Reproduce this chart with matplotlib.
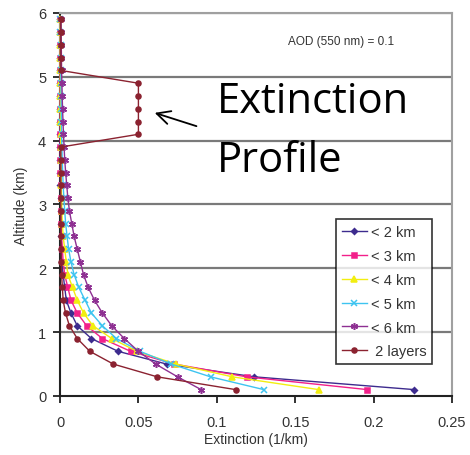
import matplotlib.pyplot as plt

# altitude of each layer centre (km)
alt = [0.1, 0.3, 0.5, 0.7, 0.9, 1.1, 1.3, 1.5, 1.7, 1.9,
       2.1, 2.3, 2.5, 2.7, 2.9, 3.1, 3.3, 3.5, 3.7, 3.9,
       4.1, 4.3, 4.5, 4.7, 4.9, 5.1, 5.3, 5.5, 5.7, 5.9]

# extinction (1/km)
ext_2km = [0.226, 0.124, 0.068, 0.037, 0.020, 0.011, 0.007, 0.004, 0.003, 0.002,
           0.001, 0.001, 0.0008, 0.0006, 0.0005, 0.0004, 0.0003, 0.0003, 0.0002, 0.0002,
           0.0002, 0.0001, 0.0001, 0.0001, 0.0001, 0.0001, 0.0001, 0.0001, 0.0001, 0.0001]
ext_3km = [0.196, 0.119, 0.073, 0.045, 0.027, 0.017, 0.011, 0.007, 0.005, 0.003,
           0.002, 0.0015, 0.001, 0.0008, 0.0006, 0.0005, 0.0004, 0.0003, 0.0003, 0.0002,
           0.0002, 0.0002, 0.0001, 0.0001, 0.0001, 0.0001, 0.0001, 0.0001, 0.0001, 0.0001]
ext_4km = [0.165, 0.110, 0.074, 0.049, 0.033, 0.021, 0.015, 0.011, 0.008, 0.005,
           0.004, 0.003, 0.002, 0.0015, 0.0012, 0.001, 0.0008, 0.0007, 0.0006, 0.0005,
           0.0004, 0.0003, 0.0003, 0.0002, 0.0002, 0.0002, 0.0002, 0.0001, 0.0001, 0.0001]
ext_5km = [0.130, 0.096, 0.071, 0.051, 0.036, 0.027, 0.020, 0.016, 0.012, 0.009,
           0.007, 0.0055, 0.0045, 0.0036, 0.003, 0.0025, 0.002, 0.0017, 0.0014, 0.0012,
           0.001, 0.0009, 0.0008, 0.0007, 0.0006, 0.0005, 0.0004, 0.0004, 0.0003, 0.0003]
ext_6km = [0.090, 0.075, 0.061, 0.050, 0.041, 0.033, 0.027, 0.022, 0.018, 0.015,
           0.013, 0.011, 0.009, 0.0075, 0.006, 0.005, 0.0043, 0.0036, 0.003, 0.0026,
           0.0022, 0.0019, 0.0016, 0.0014, 0.0012, 0.001, 0.0009, 0.0008, 0.0007, 0.0006]
ext_2lay = [0.112, 0.062, 0.034, 0.019, 0.011, 0.006, 0.0035, 0.002, 0.0015, 0.001,
            0.0008, 0.0007, 0.0006, 0.0005, 0.0005, 0.0005, 0.0005, 0.0005, 0.0005, 0.0005,
            0.050, 0.050, 0.050, 0.050, 0.050, 0.0005, 0.0005, 0.0005, 0.0005, 0.0005]

labels = ["< 2 km", "< 3 km", "< 4 km", "< 5 km", "< 6 km", " 2 layers"]
colors = ["#3d2b8e", "#f2208a", "#f2ee10", "#3ec4f0", "#8e3092", "#8b2230"]
markers = ["D", "s", "^", "x", (6, 2, 0), "o"]
sizes = [3, 3.6, 4, 4, 5, 3.6]

plt.rcParams["font.family"] = ["Liberation Sans", "DejaVu Sans"]

fig = plt.figure(figsize=(4.7, 4.56), dpi=100)
ax = fig.add_axes([0.1277, 0.1294, 0.8340, 0.8399])

series = [ext_2km, ext_3km, ext_4km, ext_5km, ext_6km, ext_2lay]
for vals, lab, c, m, s in zip(series, labels, colors, markers, sizes):
    ax.plot(vals, alt, color=c, lw=1.0, marker=m, ms=s, mec=c, mfc=c,
            mew=1.1, label=lab, clip_on=False, zorder=3)

ax.set_xlim(0, 0.25)
ax.set_ylim(0, 6)
ax.set_xticks([0, 0.05, 0.1, 0.15, 0.2, 0.25])
ax.set_xticklabels(["0", "0.05", "0.1", "0.15", "0.2", "0.25"])
ax.set_yticks(range(7))

for y in range(1, 7):
    ax.axhline(y, color="#7a7a7a", lw=1.6, zorder=1)

for side in ["left", "bottom"]:
    ax.spines[side].set_color("#222222")
    ax.spines[side].set_linewidth(1.5)
for side in ["right", "top"]:
    ax.spines[side].set_color("#a0a0a0")
    ax.spines[side].set_linewidth(1.5)

ax.tick_params(axis="both", direction="out", length=5, width=1.3,
               color="#222222", labelsize=10.5, labelcolor="#333333")
ax.tick_params(axis="x", pad=9)
ax.tick_params(axis="y", pad=5)

ax.set_xlabel("Extinction (1/km)", fontsize=10, color="#333333", labelpad=2)
ax.set_ylabel("Altitude (km)", fontsize=10, color="#333333", labelpad=7)

ax.text(0.179, 5.56, "AOD (550 nm) = 0.1", fontsize=8.5, color="#333333",
        ha="center", va="center")

ax.text(0.1, 4.449, "Extinction", fontsize=30, family="Open Sans",
        ha="left", va="baseline", color="black")
ax.text(0.1, 3.525, "Profile", fontsize=30, family="Open Sans",
        ha="left", va="baseline", color="black")
ax.annotate("", xy=(0.0587, 4.449), xytext=(0.0887, 4.214),
            arrowprops=dict(arrowstyle="->", color="black", lw=1.3,
                            mutation_scale=24))

leg = ax.legend(loc="upper left", bbox_to_anchor=(0.704, 0.462), fontsize=10.5,
                frameon=True, fancybox=False, edgecolor="black",
                handlelength=1.7, handletextpad=0.3, labelspacing=0.68,
                borderpad=0.4, borderaxespad=0)
leg.get_frame().set_linewidth(1.2)
for t in leg.get_texts():
    t.set_color("#333333")

fig.savefig("out.png", dpi=100)
